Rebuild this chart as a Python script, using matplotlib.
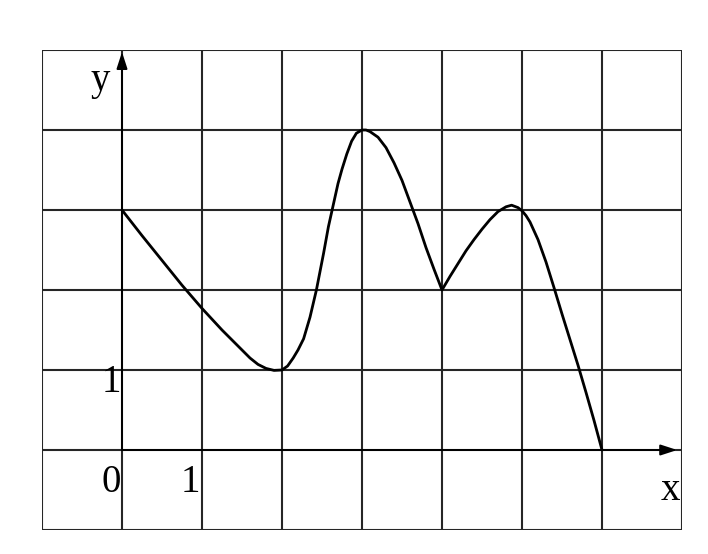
import matplotlib
matplotlib.use("Agg")
import matplotlib.pyplot as plt

# Curve points (grid unit = 1)
curve_x = [0.0, 0.25, 0.5, 0.75, 1.0, 1.25, 1.5, 1.6, 1.7, 1.8, 1.9, 2.0,
           2.07, 2.14, 2.2, 2.27, 2.35, 2.43, 2.52, 2.58, 2.64, 2.7, 2.75,
           2.81, 2.87, 2.93, 3.0, 3.05, 3.1, 3.2, 3.3, 3.4, 3.5, 3.6, 3.7,
           3.8, 3.9, 4.0,
           4.1, 4.2, 4.3, 4.4, 4.5, 4.6, 4.7, 4.8, 4.87, 4.95, 5.0, 5.05,
           5.1, 5.2, 5.3, 5.4, 5.5, 5.6, 5.7, 5.8, 5.9, 6.0]
curve_y = [3.0, 2.68, 2.37, 2.06, 1.77, 1.5, 1.25, 1.15, 1.07, 1.02, 0.995, 1.0,
           1.05, 1.15, 1.25, 1.39, 1.66, 2.0, 2.46, 2.79, 3.06, 3.33, 3.51,
           3.7, 3.86, 3.96, 4.0, 4.0, 3.98, 3.91, 3.78, 3.59, 3.37, 3.1, 2.83,
           2.53, 2.26, 2.0,
           2.17, 2.33, 2.49, 2.63, 2.76, 2.88, 2.98, 3.04, 3.06, 3.03, 2.99, 2.93,
           2.85, 2.63, 2.35, 2.03, 1.7, 1.38, 1.06, 0.72, 0.37, 0.0]

grid_x = list(range(-1, 8))
grid_y = list(range(-1, 6))

label_texts = ["y", "1", "0", "1", "x"]
label_pos_x = [-0.27, -0.13, -0.14, 0.86, 6.86]
label_pos_y = [4.5, 0.72, -0.525, -0.525, -0.62]

W, H = 708, 554
fig = plt.figure(figsize=(W / 100, H / 100), dpi=100)
ax = fig.add_axes([42 / W, (H - 530) / H, 640 / W, 480 / H])
ax.set_xlim(-1, 7)
ax.set_ylim(-1, 5)
ax.axis("off")

gcol = "#262626"
for gx in grid_x:
    ax.axvline(gx, color=gcol, lw=1.5, zorder=1)
for gy in grid_y:
    ax.axhline(gy, color=gcol, lw=1.5, zorder=1)

# axis arrows
arrow_style = "-|>,head_length=0.4,head_width=0.13"
ax.annotate("", xy=(6.94, 0), xytext=(0, 0),
            arrowprops=dict(arrowstyle=arrow_style, color="black", lw=1.4,
                            mutation_scale=25, shrinkA=0, shrinkB=0), zorder=2)
ax.annotate("", xy=(0, 4.975), xytext=(0, 0),
            arrowprops=dict(arrowstyle=arrow_style, color="black", lw=1.4,
                            mutation_scale=25, shrinkA=0, shrinkB=0), zorder=2)

ax.plot(curve_x, curve_y, color="black", lw=2.0, zorder=3,
        solid_joinstyle="round", solid_capstyle="round")

for t, px, py in zip(label_texts, label_pos_x, label_pos_y):
    ax.text(px, py, t, fontsize=28, family="Liberation Serif",
            ha="center", va="baseline", color="black", zorder=4)

fig.savefig("out.png", dpi=100, facecolor="white")
